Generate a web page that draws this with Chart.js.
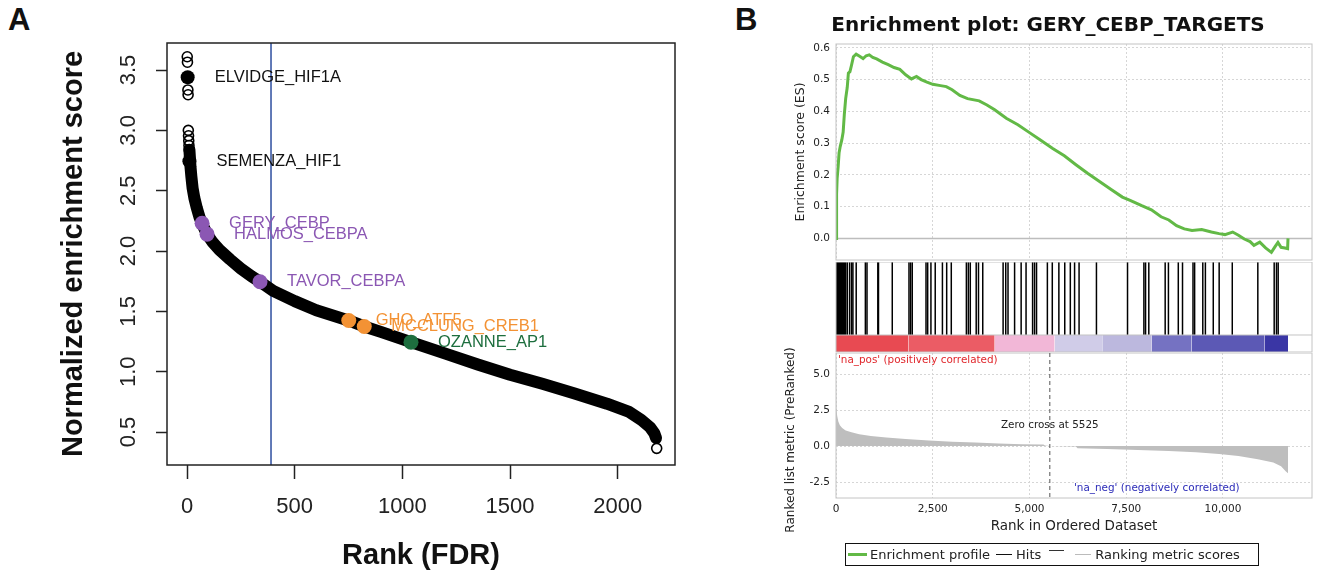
<!DOCTYPE html>
<html lang="en">
<head>
<meta charset="UTF-8" />
<title>NES ranking and GSEA enrichment plot</title>
<script src="https://cdn.jsdelivr.net/npm/chart.js@4.4.1/dist/chart.umd.min.js"></script>
<style>
  body { margin: 0; background: #fff; }
  #wrap { position: relative; width: 1322px; height: 573px; overflow: hidden; background: #fff; }
  canvas { position: absolute; }
  .panel { position: absolute; font: bold 31px 'Liberation Sans', Arial, sans-serif; line-height: 1; color: #111; }
  #legend {
    position: absolute; left: 845px; top: 543px; width: 410px; height: 21px;
    border: 1.5px solid #111; font: 13px 'DejaVu Sans', sans-serif; color: #222;
    display: flex; align-items: center; white-space: nowrap; padding-left: 2px;
  }
  #legend .sw { display: inline-block; height: 0; }
</style>
</head>
<body>
<div id="wrap">
  <div class="panel" style="left:8px;top:4px">A</div>
  <div class="panel" style="left:735px;top:4px">B</div>
  <canvas id="nesChart" width="720" height="573" style="left:0;top:0;width:720px;height:573px"></canvas>
  <canvas id="esChart" width="538" height="262" style="left:784px;top:0;width:538px;height:262px"></canvas>
  <canvas id="hitChart" width="538" height="90" style="left:784px;top:262px;width:538px;height:90px"></canvas>
  <canvas id="metricChart" width="538" height="202" style="left:784px;top:340px;width:538px;height:202px"></canvas>
  <div id="legend">
    <span class="sw" style="width:19px;border-top:3px solid #62B946;margin-right:3px"></span>Enrichment profile
    <span class="sw" style="width:16px;border-top:1.5px solid #111;margin:0 4px 0 6px"></span>Hits
    <span class="sw" style="width:15px;border-top:1.5px solid #333;margin:0 0 8px 8px"></span>
    <span class="sw" style="width:16px;border-top:1px solid #bbb;margin:0 4px 0 11px"></span>Ranking metric scores
  </div>
</div>
<script>
  const LIB = "'Liberation Sans', Arial, sans-serif";
  const DJV = "'DejaVu Sans', sans-serif";
  Chart.defaults.font.family = DJV;
  Chart.defaults.color = "#222";
  Chart.defaults.layout.autoPadding = false;

  // ---------- panel A : NES of gene sets ordered by FDR rank
  const rankTicks = [0, 500, 1000, 1500, 2000];
  const nesTicks = [0.5, 1.0, 1.5, 2.0, 2.5, 3.0, 3.5];

  const bandRank = [11, 16, 20, 26, 34, 45, 58, 70, 93, 120, 150, 200, 250, 300, 340, 400,
    500, 600, 750, 823, 900, 1040, 1200, 1350, 1500, 1650, 1800, 1950, 2050, 2110, 2150, 2170, 2178];
  const bandNes = [2.84, 2.70, 2.62, 2.52, 2.44, 2.36, 2.28, 2.225, 2.14, 2.07, 2.01, 1.93, 1.855, 1.79, 1.745, 1.67,
    1.585, 1.51, 1.425, 1.375, 1.33, 1.245, 1.15, 1.06, 0.975, 0.90, 0.82, 0.735, 0.67, 0.60, 0.54, 0.49, 0.45];

  const openRank = [1, 2, 4, 5, 6, 7, 8, 9, 10, 2181];
  const openNes = [3.61, 3.565, 3.335, 3.295, 3.0, 2.955, 2.915, 2.875, 2.84, 0.365];

  const setNames = ["ELVIDGE_HIF1A", "SEMENZA_HIF1", "GERY_CEBP", "HALMOS_CEBPA", "TAVOR_CEBPA",
    "GHO_ATF5", "MCCLUNG_CREB1", "OZANNE_AP1"];
  const setRank = [3, 11, 70, 93, 339, 751, 823, 1040];
  const setNes = [3.44, 2.745, 2.23, 2.14, 1.745, 1.425, 1.375, 1.245];
  const setGroup = ["hif", "hif", "cebp", "cebp", "cebp", "atf", "atf", "ap1"];
  const fdrRank = 390;

  // ---------- panel B : GSEA enrichment plot
  const gseaTicks = [0, 2500, 5000, 7500, 10000];
  const esTicks = [0, 0.1, 0.2, 0.3, 0.4, 0.5, 0.6];
  const metricTicks = [-2.5, 0, 2.5, 5];

  const esRank = [0, 15, 30, 55, 80, 110, 150, 185, 215, 250, 290, 320, 360, 400, 450, 520, 600, 700, 780, 860,
    950, 1050, 1200, 1350, 1500, 1650, 1800, 1950, 2080, 2200, 2350, 2500, 2700, 2850, 3000, 3200, 3400, 3700,
    3900, 4100, 4400, 4700, 5000, 5300, 5600, 5900, 6200, 6500, 6800, 7100, 7400, 7600, 7900, 8150, 8400, 8600,
    8800, 9000, 9200, 9450, 9700, 9900, 10050, 10250, 10400, 10550, 10700, 10800, 10950, 11100, 11250, 11350,
    11420, 11500, 11600, 11670, 11680];
  const esScore = [0.0, 0.14, 0.19, 0.225, 0.27, 0.29, 0.31, 0.335, 0.39, 0.44, 0.475, 0.52, 0.525, 0.545, 0.572,
    0.58, 0.574, 0.566, 0.575, 0.578, 0.57, 0.565, 0.555, 0.547, 0.538, 0.532, 0.515, 0.502, 0.51, 0.5, 0.492,
    0.485, 0.481, 0.478, 0.468, 0.45, 0.44, 0.433, 0.42, 0.405, 0.378, 0.358, 0.333, 0.308, 0.283, 0.26, 0.232,
    0.205, 0.18, 0.155, 0.13, 0.12, 0.103, 0.09, 0.068, 0.058, 0.04, 0.03, 0.025, 0.028, 0.02, 0.015, 0.012,
    0.02, 0.01, -0.002, -0.01, -0.022, -0.012, -0.03, -0.044, -0.025, -0.013, -0.028, -0.03, -0.032, 0.0];

  const hitRank = [0, 14, 28, 42, 56, 70, 84, 98, 112, 126, 140, 154, 168, 182, 196, 210, 224, 238, 252,
    293, 352, 403, 437, 522, 759, 801, 1081, 1098, 1454, 1886, 1928, 1971, 2326, 2369, 2453, 2564, 2750, 2860,
    2979, 3369, 3420, 3470, 3623, 3682, 3792, 4318, 4386, 4445, 4615, 4784, 4911, 5080, 5131, 5182, 5462, 5589,
    5759, 5911, 6055, 6165, 6281, 6730, 7533, 7956, 7999, 8083, 8506, 8590, 8845, 8954, 9225, 9267, 9478, 9545,
    9749, 9901, 10240, 10900, 11323, 11382, 11426];

  const corrStart = [0, 1870, 4100, 5650, 6880, 8160, 9190, 11070];
  const corrEnd = [1870, 4100, 5650, 6880, 8160, 9190, 11070, 11680];
  const corrColor = ["#E84A52", "#EB5C65", "#F2B7D7", "#D0CCE8", "#BCB8DE", "#7572C2", "#5C59B5", "#3A36A5"];

  const metricRank = [0, 8, 15, 30, 60, 100, 160, 250, 400, 600, 900, 1300, 1800, 2400, 3000, 3600, 4200, 4800,
    5300, 5360, 5400, 5525, 6200, 6240, 7000, 7800, 8600, 9300, 9900, 10400, 10900, 11300, 11500, 11620, 11680];
  const metricValue = [5.2, 3.6, 2.6, 2.1, 1.7, 1.45, 1.25, 1.08, 0.95, 0.82, 0.7, 0.6, 0.48, 0.38, 0.3, 0.24, 0.18,
    0.13, 0.11, 0.1, 0.03, 0, -0.03, -0.15, -0.2, -0.27, -0.35, -0.44, -0.55, -0.7, -0.92, -1.15, -1.4, -1.75, -1.9];
  const zeroCross = 5525;

  const groupColor = { hif: "#000000", cebp: "#8B57B3", atf: "#F39234", ap1: "#1D6E3E" };
  const xy = (xs, ys) => xs.map((x, i) => ({ x: x, y: ys[i] }));
  const tickList = arr => s => { s.ticks = arr.map(v => ({ value: v })); };
  const fixWidth = w => s => { s.width = w; s.paddingTop = 0; s.paddingBottom = 0; };
  const fixHeight = h => s => { s.height = h; s.paddingLeft = 0; s.paddingRight = 0; };

  const framePlugin = {
    id: "frame",
    afterDatasetsDraw(chart, args, o) {
      if (!o.color) return;
      const a = chart.chartArea, c = chart.ctx;
      c.save();
      c.strokeStyle = o.color;
      c.lineWidth = o.width || 1;
      c.strokeRect(a.left, a.top, a.right - a.left, a.bottom - a.top);
      if (o.split != null) {
        const y = chart.scales.y.getPixelForValue(o.split);
        c.beginPath(); c.moveTo(a.left, y); c.lineTo(a.right, y); c.stroke();
      }
      c.restore();
    }
  };
  Chart.register(framePlugin);

  // panel A extras: FDR cut line, rotated y labels, gene set names
  const nesExtras = {
    id: "nesExtras",
    beforeDatasetsDraw(chart) {
      const { ctx, scales: { x }, chartArea: a } = chart;
      const px = x.getPixelForValue(fdrRank);
      ctx.save();
      ctx.strokeStyle = "#2D4E9F"; ctx.lineWidth = 1.5;
      ctx.beginPath(); ctx.moveTo(px, a.top); ctx.lineTo(px, a.bottom); ctx.stroke();
      ctx.restore();
    },
    afterDraw(chart) {
      const { ctx, scales: { x, y }, chartArea: a } = chart;
      ctx.save();
      ctx.fillStyle = "#222";
      ctx.font = "22px " + LIB;
      ctx.textAlign = "center";
      ctx.textBaseline = "middle";
      nesTicks.forEach(v => {
        ctx.save();
        ctx.translate(a.left - 38, y.getPixelForValue(v));
        ctx.rotate(-Math.PI / 2);
        ctx.fillText(v.toFixed(1), 0, 0);
        ctx.restore();
      });
      ctx.font = "16.5px " + LIB;
      ctx.textAlign = "left";
      setNames.forEach((n, i) => {
        ctx.fillStyle = setGroup[i] === "hif" ? "#111" : groupColor[setGroup[i]];
        ctx.fillText(n, x.getPixelForValue(setRank[i]) + 27, y.getPixelForValue(setNes[i]));
      });
      ctx.restore();
    }
  };

  const groupSet = g => ({
    data: setRank.map((r, i) => ({ x: r, y: setNes[i] })).filter((p, i) => setGroup[i] === g),
    showLine: false, pointRadius: g === "hif" ? 7 : 7.5, pointBorderWidth: 0,
    pointBackgroundColor: groupColor[g]
  });

  new Chart("nesChart", {
    type: "line",
    data: {
      datasets: [
        groupSet("hif"), groupSet("cebp"), groupSet("atf"), groupSet("ap1"),
        { data: xy(openRank, openNes), showLine: false, pointRadius: 5, pointBorderWidth: 1.6,
          pointBorderColor: "#000", pointBackgroundColor: "rgba(0,0,0,0)" },
        { data: xy(bandRank, bandNes), borderColor: "#000", borderWidth: 12, pointRadius: 0,
          borderCapStyle: "round", borderJoinStyle: "round" }
      ]
    },
    options: {
      responsive: false, animation: false, events: [],
      layout: { padding: { left: 0, top: 43, right: 45, bottom: 0 } },
      plugins: { legend: { display: false }, tooltip: { enabled: false }, frame: { color: "#222", width: 1.5 } },
      scales: {
        x: {
          type: "linear", min: -93, max: 2266,
          afterBuildTicks: tickList(rankTicks),
          afterFit: fixHeight(108),
          grid: { drawOnChartArea: false, tickLength: 14, tickColor: "#222", tickWidth: 1.5 },
          border: { display: false },
          ticks: { font: { size: 22, family: LIB }, color: "#222", padding: 15, maxRotation: 0,
            callback: v => String(v) },
          title: { display: true, text: "Rank (FDR)", color: "#111",
            font: { size: 29, weight: "bold", family: LIB }, padding: { top: 0, bottom: 0 } }
        },
        y: {
          min: 0.227, max: 3.724,
          afterBuildTicks: tickList(nesTicks),
          afterFit: fixWidth(167),
          grid: { drawOnChartArea: false, tickLength: 11, tickColor: "#222", tickWidth: 1.5 },
          border: { display: false },
          ticks: { display: false },
          title: { display: true, text: "Normalized enrichment score", color: "#111",
            font: { size: 29, weight: "bold", family: LIB }, padding: { top: 57, bottom: 0 } }
        }
      }
    },
    plugins: [nesExtras]
  });

  // ---------- panel B charts
  const esZero = {
    id: "esZero",
    beforeDatasetsDraw(chart) {
      const { ctx, scales: { y }, chartArea: a } = chart;
      const py = y.getPixelForValue(0);
      ctx.save();
      ctx.strokeStyle = "#BDBDBD"; ctx.lineWidth = 1.5;
      ctx.beginPath(); ctx.moveTo(a.left, py); ctx.lineTo(a.right, py); ctx.stroke();
      ctx.restore();
    }
  };

  new Chart("esChart", {
    type: "line",
    data: { datasets: [{ data: xy(esRank, esScore), borderColor: "#62B946", borderWidth: 3, pointRadius: 0 }] },
    options: {
      responsive: false, animation: false, events: [],
      layout: { padding: { left: 0, right: 10, top: 0, bottom: 2 } },
      plugins: {
        legend: { display: false }, tooltip: { enabled: false },
        title: { display: true, text: "Enrichment plot: GERY_CEBP_TARGETS", color: "#111",
          font: { family: DJV, size: 20, weight: "bold" }, padding: { top: 14, bottom: 6 } },
        frame: { color: "#C4C4C4", width: 1 }
      },
      scales: {
        x: {
          type: "linear", min: 0, max: 12300,
          afterBuildTicks: tickList(gseaTicks),
          afterFit: fixHeight(0),
          ticks: { display: false },
          grid: { color: "#D6D6D6", drawTicks: false },
          border: { display: false, dash: [2, 2] }
        },
        y: {
          min: -0.068, max: 0.612,
          afterBuildTicks: tickList(esTicks),
          afterFit: fixWidth(52),
          ticks: { font: { size: 10.5 }, color: "#222", padding: 6, callback: v => v.toFixed(1) },
          grid: { color: "#D6D6D6", drawTicks: false },
          border: { display: false, dash: [2, 2] },
          title: { display: true, text: "Enrichment score (ES)", color: "#222", font: { size: 12.5 },
            padding: { top: 9, bottom: 0 } }
        }
      }
    },
    plugins: [esZero]
  });

  new Chart("hitChart", {
    type: "line",
    data: {
      datasets: [
        { data: hitRank.map(r => ({ x: r, y: 0.5945 })), showLine: false, pointStyle: "line",
          pointRotation: 90, pointRadius: 36.5, pointBorderWidth: 1.5, pointBorderColor: "#000" }
      ].concat(corrStart.map((s, i) => ({
        data: [{ x: s, y: 0.189 }, { x: corrEnd[i], y: 0.189 }], fill: "origin",
        backgroundColor: corrColor[i], borderColor: "rgba(0,0,0,0)", borderWidth: 0, pointRadius: 0
      })))
    },
    options: {
      responsive: false, animation: false, events: [],
      layout: { padding: { left: 52, right: 10, top: 0, bottom: 0 } },
      plugins: { legend: { display: false }, tooltip: { enabled: false },
        frame: { color: "#C4C4C4", width: 1, split: 0.189 } },
      scales: {
        x: { type: "linear", display: false, min: 0, max: 12300 },
        y: { display: false, min: 0, max: 1 }
      }
    }
  });

  const metricExtras = {
    id: "metricExtras",
    afterDatasetsDraw(chart) {
      const { ctx, scales: { x }, chartArea: a } = chart;
      const zx = x.getPixelForValue(zeroCross);
      ctx.save();
      ctx.strokeStyle = "#555"; ctx.lineWidth = 1; ctx.setLineDash([4, 3]);
      ctx.beginPath(); ctx.moveTo(zx, a.top); ctx.lineTo(zx, a.bottom); ctx.stroke();
      ctx.setLineDash([]);
      ctx.font = "10.4px " + DJV;
      ctx.textBaseline = "middle";
      ctx.fillStyle = "#222"; ctx.textAlign = "center";
      ctx.fillText("Zero cross at " + zeroCross, zx, a.top + 72);
      ctx.textAlign = "left";
      ctx.fillStyle = "#E0262B";
      ctx.fillText("'na_pos' (positively correlated)", a.left + 2, a.top + 7);
      ctx.fillStyle = "#2B2BB8";
      ctx.fillText("'na_neg' (negatively correlated)", a.left + 238, a.bottom - 10);
      // y axis title, centred lower than the plot like the GSEA output
      ctx.fillStyle = "#222"; ctx.font = "12px " + DJV; ctx.textAlign = "center";
      ctx.translate(a.left - 45, a.top + 87);
      ctx.rotate(-Math.PI / 2);
      ctx.fillText("Ranked list metric (PreRanked)", 0, 0);
      ctx.restore();
    }
  };

  new Chart("metricChart", {
    type: "line",
    data: { datasets: [{ data: xy(metricRank, metricValue), fill: "origin", backgroundColor: "#BEBEBE",
      borderColor: "rgba(0,0,0,0)", borderWidth: 0, pointRadius: 0 }] },
    options: {
      responsive: false, animation: false, events: [],
      layout: { padding: { left: 0, right: 10, top: 13, bottom: 0 } },
      plugins: { legend: { display: false }, tooltip: { enabled: false }, frame: { color: "#C4C4C4", width: 1 } },
      scales: {
        x: {
          type: "linear", min: 0, max: 12300,
          afterBuildTicks: tickList(gseaTicks),
          afterFit: fixHeight(44),
          ticks: { font: { size: 10.5 }, color: "#222", padding: 5, maxRotation: 0,
            callback: v => v.toLocaleString("en-US") },
          grid: { color: "#D6D6D6", drawTicks: false },
          border: { display: false, dash: [2, 2] },
          title: { display: true, text: "Rank in Ordered Dataset", color: "#222", font: { size: 13.5 },
            padding: { top: 0, bottom: 7 } }
        },
        y: {
          min: -3.61, max: 6.46,
          afterBuildTicks: tickList(metricTicks),
          afterFit: fixWidth(52),
          ticks: { font: { size: 10.5 }, color: "#222", padding: 6, callback: v => v.toFixed(1) },
          grid: { color: "#D6D6D6", drawTicks: false },
          border: { display: false, dash: [2, 2] }
        }
      }
    },
    plugins: [metricExtras]
  });
</script>
</body>
</html>
